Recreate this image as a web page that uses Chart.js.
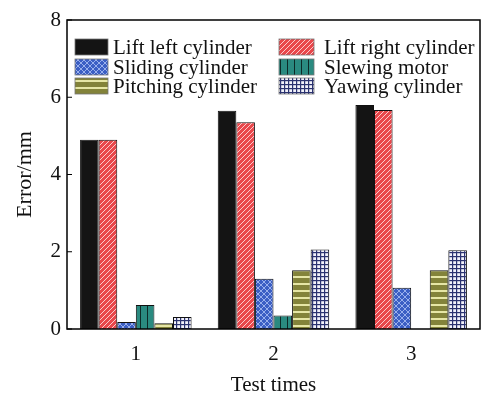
<!DOCTYPE html>
<html>
<head>
<meta charset="utf-8">
<script src="https://cdn.jsdelivr.net/npm/chart.js@4/dist/chart.umd.min.js"></script>
<style>
  html, body { margin: 0; padding: 0; background: #ffffff; }
  #wrap { width: 486px; height: 398px; }
</style>
</head>
<body>
<div id="wrap"><canvas id="grafico" width="486" height="398"></canvas></div>
<script>
// dados
var categorias = ['1', '2', '3'];
var series = ['Lift left cylinder', 'Lift right cylinder', 'Sliding cylinder',
              'Slewing motor', 'Pitching cylinder', 'Yawing cylinder'];
var liftLeft = [4.90, 5.65, 5.80];
var liftRight = [4.90, 5.35, 5.67];
var sliding = [0.18, 1.30, 1.07];
var slewing = [0.62, 0.35, 0];
var pitching = [0.15, 1.52, 1.52];
var yawing = [0.31, 2.06, 2.04];
var ticksY = [0, 2, 4, 6, 8];

var FONTE = '"Liberation Serif", "Times New Roman", serif';

// ============================
// PADRÕES (hachuras)
// ============================
function criaPadrao(tam, desenha) {
    var c = document.createElement('canvas');
    c.width = tam; c.height = tam;
    var g = c.getContext('2d');
    desenha(g, tam);
    return g.createPattern(c, 'repeat');
}

var padraoPreto = '#141414';

var padraoVermelho = criaPadrao(5, function (g, t) {
    g.fillStyle = '#e9474b';
    g.fillRect(0, 0, t, t);
    g.strokeStyle = 'rgba(255,235,235,0.9)';
    g.lineWidth = 0.9;
    g.beginPath();
    g.moveTo(-1, t + 1); g.lineTo(t + 1, -1);
    g.moveTo(-1, 1); g.lineTo(1, -1);
    g.moveTo(t - 1, t + 1); g.lineTo(t + 1, t - 1);
    g.stroke();
});

var padraoAzul = criaPadrao(6, function (g, t) {
    g.fillStyle = '#3c5fc4';
    g.fillRect(0, 0, t, t);
    g.strokeStyle = 'rgba(200,215,255,0.85)';
    g.lineWidth = 0.8;
    g.beginPath();
    g.moveTo(0, t); g.lineTo(t, 0);
    g.moveTo(0, 0); g.lineTo(t, t);
    g.stroke();
});

var padraoVerde = criaPadrao(7, function (g, t) {
    g.fillStyle = '#2a8a80';
    g.fillRect(0, 0, t, t);
    g.fillStyle = '#0d2a28';
    g.fillRect(0, 0, 1, t);
});

var padraoOliva = criaPadrao(7, function (g, t) {
    g.fillStyle = '#83833a';
    g.fillRect(0, 0, t, t);
    g.fillStyle = '#e6e6a6';
    g.fillRect(0, 3, t, 2);
});

var padraoXadrez = criaPadrao(4, function (g, t) {
    g.fillStyle = '#f2f2fa';
    g.fillRect(0, 0, t, t);
    g.fillStyle = '#2b3270';
    g.fillRect(0, 0, t, 1.2);
    g.fillRect(0, 0, 1.2, t);
});

var preenchimentos = [padraoPreto, padraoVermelho, padraoAzul, padraoVerde, padraoOliva, padraoXadrez];
var valores = [liftLeft, liftRight, sliding, slewing, pitching, yawing];

var conjuntos = series.map(function (nome, i) {
    return {
        label: nome,
        data: valores[i],
        backgroundColor: preenchimentos[i],
        borderColor: '#111111',
        borderWidth: 1,
        borderSkipped: 'bottom',
        barPercentage: 1.0,
        categoryPercentage: 0.81
    };
});

// ============================
// PLUGIN - moldura, ticks internos e legenda
// ============================
var pluginMoldura = {
    id: 'moldura',
    afterDraw: function (chart) {
        var g = chart.ctx;
        var a = chart.chartArea;
        var sy = chart.scales.y;
        g.save();
        g.strokeStyle = '#000000';
        g.lineWidth = 1.5;
        g.strokeRect(a.left, a.top, a.right - a.left, a.bottom - a.top);

        // ticks para dentro
        g.lineWidth = 1.2;
        g.beginPath();
        ticksY.forEach(function (v) {
            var y = sy.getPixelForValue(v);
            g.moveTo(a.left, y); g.lineTo(a.left + 5, y);
        });
        g.stroke();

        // legenda em duas colunas
        var colunas = [a.left + 8, a.left + 212];
        var larguras = [33, 35];
        var recuos = [38, 45];
        var linhas = [a.top + 27, a.top + 47, a.top + 66];
        g.font = '21px ' + FONTE;
        g.textBaseline = 'middle';
        g.textAlign = 'left';
        series.forEach(function (nome, i) {
            var c = i % 2;
            var x = colunas[c];
            var yc = linhas[Math.floor(i / 2)];
            g.fillStyle = preenchimentos[i];
            g.fillRect(x, yc - 8, larguras[c], 16);
            g.strokeStyle = '#777777';
            g.lineWidth = 0.8;
            g.strokeRect(x, yc - 8, larguras[c], 16);
            g.fillStyle = '#111111';
            g.fillText(nome, x + recuos[c], yc + 1);
        });
        g.restore();
    }
};

var grafico = new Chart(document.getElementById('grafico'), {
    type: 'bar',
    data: {
        labels: categorias,
        datasets: conjuntos
    },
    options: {
        responsive: false,
        animation: false,
        layout: { padding: { top: 20, right: 6, left: 0, bottom: 0 } },
        plugins: {
            legend: { display: false },
            tooltip: { enabled: false }
        },
        scales: {
            x: {
                grid: { display: false, drawTicks: false },
                border: { display: false },
                ticks: { color: '#111111', font: { family: FONTE, size: 21 }, padding: 13 },
                title: {
                    display: true,
                    text: 'Test times',
                    color: '#111111',
                    font: { family: FONTE, size: 21 },
                    padding: { top: 1, bottom: 0 }
                },
                afterFit: function (s) { s.height = 69; }
            },
            y: {
                min: 0,
                max: 8,
                afterBuildTicks: function (s) {
                    s.ticks = ticksY.map(function (v) { return { value: v }; });
                },
                grid: { display: false, drawTicks: false },
                border: { display: false },
                ticks: { color: '#111111', font: { family: FONTE, size: 21 }, padding: 6 },
                title: {
                    display: true,
                    text: 'Error/mm',
                    color: '#111111',
                    font: { family: FONTE, size: 22 },
                    padding: { top: 12, bottom: 0 }
                },
                afterFit: function (s) { s.width = 67; }
            }
        }
    },
    plugins: [pluginMoldura]
});
</script>
</body>
</html>
